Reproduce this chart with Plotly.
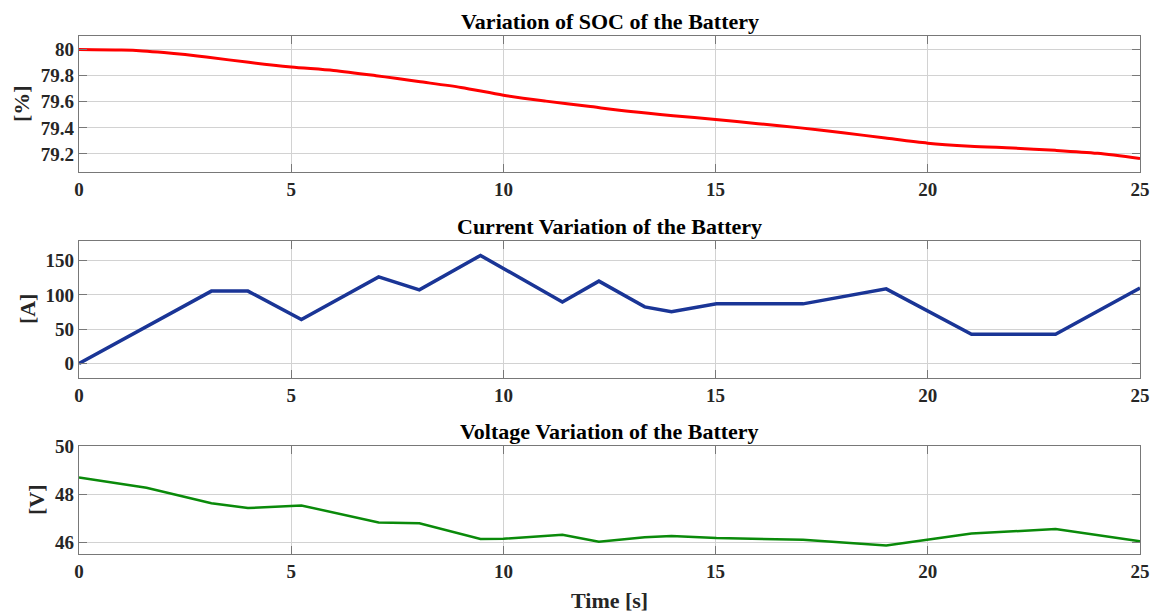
import plotly.graph_objects as go
from plotly.subplots import make_subplots

# ---- data ----
soc_t = [0, 1, 1.5, 2, 2.5, 3, 4, 5, 6, 7, 7.5, 8, 9, 10, 11, 12, 13, 14, 15, 16, 17, 18, 19, 20, 21, 22, 23, 24, 25]
soc_v = [80.0, 79.996, 79.99, 79.978, 79.962, 79.943, 79.902, 79.867, 79.84, 79.80, 79.778, 79.755, 79.71, 79.65,
         79.605, 79.565, 79.525, 79.493, 79.465, 79.432, 79.40, 79.363, 79.322, 79.283, 79.26, 79.245, 79.228, 79.205, 79.165]

cur_t = [0, 3.12, 3.98, 5.24, 7.06, 8.02, 9.46, 11.39, 12.25, 13.33, 13.96, 15.02, 17.06, 19.02, 21.03, 23.01, 25]
cur_v = [0, 105.5, 105.5, 64.1, 126.2, 107.3, 157.4, 89.5, 120.0, 82.5, 75.5, 86.9, 86.9, 108.7, 42.5, 42.5, 110.0]

volt_t = [0, 1.59, 3.12, 3.98, 5.24, 7.06, 8.02, 9.46, 10.0, 11.39, 12.25, 13.33, 13.96, 15.02, 17.06, 19.02, 21.03, 23.01, 25]
volt_v = [48.7, 48.27, 47.63, 47.43, 47.54, 46.83, 46.80, 46.15, 46.16, 46.33, 46.04, 46.22, 46.27, 46.19, 46.12, 45.88, 46.38, 46.56, 46.06]

titles = ["Variation of SOC of the Battery", "Current Variation of the Battery", "Voltage Variation of the Battery"]
ylabels = ["[%]", "[A]", "[V]"]
xlabel = "Time [s]"
x_ticks = [0, 5, 10, 15, 20, 25]
soc_ticks = [79.2, 79.4, 79.6, 79.8, 80]
cur_ticks = [0, 50, 100, 150]
volt_ticks = [46, 48, 50]

FONT = "Liberation Serif, Times New Roman, serif"
TICKC = "#262626"
TICKFONT = dict(family=FONT, size=19, color=TICKC, weight="bold")

fig = make_subplots(rows=3, cols=1)
fig.add_trace(go.Scatter(x=soc_t, y=soc_v, mode="lines", line=dict(color="#ff0000", width=3, shape="spline", smoothing=0.8)), row=1, col=1)
fig.add_trace(go.Scatter(x=cur_t, y=cur_v, mode="lines", line=dict(color="#1a3596", width=3.5)), row=2, col=1)
fig.add_trace(go.Scatter(x=volt_t, y=volt_v, mode="lines", line=dict(color="#0a8a0a", width=2.5)), row=3, col=1)

domains = [[0.7375, 1.0], [0.3405, 0.605], [0.0, 0.2085]]
yranges = [[79.062, 80.104], [-20.5, 179], [45.53, 50]]
yticks = [soc_ticks, cur_ticks, volt_ticks]

axcommon = dict(showline=True, linecolor="#787878", linewidth=1.2, mirror="ticks", ticks="inside",
                ticklen=8, tickcolor="#787878", tickwidth=1, showgrid=True, gridcolor="#d2d2d2", gridwidth=1,
                zeroline=False, tickfont=TICKFONT, automargin=False)

for i in range(3):
    xa = "xaxis" if i == 0 else f"xaxis{i+1}"
    ya = "yaxis" if i == 0 else f"yaxis{i+1}"
    fig.layout[xa].update(range=[0, 25], tickvals=x_ticks, domain=[0, 1], **axcommon)
    fig.layout[ya].update(range=yranges[i], tickvals=yticks[i], domain=domains[i], **axcommon)
    fig.layout[ya].update(ticktext=[("%g" % v) for v in yticks[i]])

annots = []
for i in range(3):
    annots.append(dict(text=f"<b>{titles[i]}</b>", xref="paper", yref="paper", x=0.5, y=domains[i][1],
                       xanchor="center", yanchor="bottom", yshift=0, showarrow=False,
                       font=dict(family=FONT, size=22, color="black")))
ylab_x = [-57, -52, -42]
for i in range(3):
    annots.append(dict(text=f"<b>{ylabels[i]}</b>", xref="paper", yref="paper", x=0,
                       y=(domains[i][0] + domains[i][1]) / 2, xanchor="center", yanchor="middle",
                       xshift=ylab_x[i], textangle=-90, showarrow=False,
                       font=dict(family=FONT, size=22, color=TICKC)))
annots.append(dict(text=f"<b>{xlabel}</b>", xref="paper", yref="paper", x=0.5, y=0, xanchor="center",
                   yanchor="middle", yshift=-46, showarrow=False, font=dict(family=FONT, size=22, color=TICKC)))

# page body adds an 8px offset, so the figure is sized to fit the 1158x615 window
fig.update_layout(width=1150, height=607, margin=dict(l=71, r=18, t=28, b=61), showlegend=False,
                  plot_bgcolor="white", paper_bgcolor="white", annotations=annots,
                  font=dict(family=FONT, color=TICKC))

fig.write_html("out.html")
